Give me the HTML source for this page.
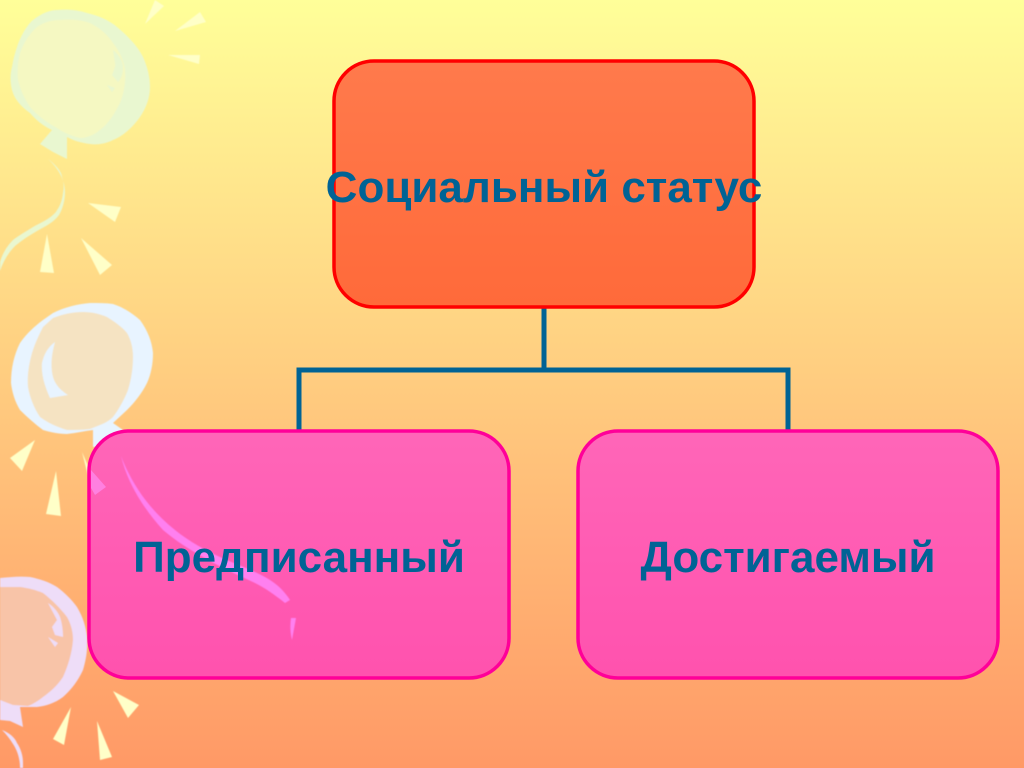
<!DOCTYPE html>
<html>
<head>
<meta charset="utf-8">
<style>
html,body{margin:0;padding:0;width:1024px;height:768px;overflow:hidden}
svg{display:block}
text{font-family:"Liberation Sans",sans-serif;font-weight:bold;font-size:44px;fill:#006395;text-anchor:middle}
</style>
</head>
<body>
<svg width="1024" height="768" viewBox="0 0 1024 768" xmlns="http://www.w3.org/2000/svg">
<defs>
<linearGradient id="bg" x1="0" y1="0" x2="0" y2="1"><stop offset="0" stop-color="#FFFF99"/><stop offset="1" stop-color="#FF9966"/></linearGradient>
<linearGradient id="o" x1="0" y1="0" x2="0" y2="1"><stop offset="0" stop-color="#FF7A4C"/><stop offset="1" stop-color="#FF6A3A"/></linearGradient>
<linearGradient id="p" x1="0" y1="0" x2="0" y2="1"><stop offset="0" stop-color="#FF66B8"/><stop offset="1" stop-color="#FF52AE"/></linearGradient>
<filter id="s" x="-5%" y="-5%" width="110%" height="110%"><feGaussianBlur stdDeviation="0.5"/></filter>
</defs>
<rect width="1024" height="768" fill="url(#bg)"/>

<g filter="url(#s)">
<!-- balloon 1 -->
<path d="M17,47 C22,32 30,22 33,20 C42,13 50,10 57,10 C68,9 78,10 87,13 C100,16 110,21 117,27 C130,38 138,47 143,57 C148,68 150,78 150,87 C150,98 146,108 140,117 C132,128 123,136 113,140 C105,144 97,145 90,144 C82,143 74,141 67,137 L67,159 L53,152 L40,144 L52,130 C43,126 36,120 30,113 C20,106 14,98 12,90 C10,82 10,74 12,67 C13,60 15,53 17,47Z" fill="#E9F7D0"/>
<path d="M20,53 C24,42 30,33 37,27 C44,22 52,20 60,20 C72,19 82,20 90,23 C100,28 108,35 113,43 C120,52 124,61 125,70 C126,82 124,93 120,103 C114,115 108,124 100,130 C94,135 87,138 80,138 C72,136 64,133 57,128 C46,122 37,115 30,107 C24,98 20,89 18,80 C17,70 18,61 20,53Z" fill="#F5F8C2"/>
<path d="M113,50 C119,55 123,61 123,67 C123,74 121,79 118,82 L112,75 C114,70 116,66 115,63Z M107,85 L115,88 L112,92Z" fill="#E9F7D0"/>
<path d="M48,159 C56,165 62,172 62,177 C64,183 64,188 63,193 C62,202 59,208 55,213 C48,220 40,223 33,227 C25,232 18,236 13,240 C6,247 2,255 0,262 L0,271 C3,262 8,253 15,246 C22,240 30,235 37,231 C46,226 54,222 59,215 C63,208 65,200 65,192 C65,180 58,168 48,159Z" fill="#E9F7D0"/>
<g fill="#FFFFC8">
<path d="M155,0 L164,6 L145,24Z"/><path d="M200,12 L206,22 L175,31Z"/><path d="M168,55 L200,55 L199,64Z"/>
<path d="M88,203 L121,207 L115,222Z"/><path d="M81,238 L112,265 L100,275Z"/><path d="M47,234 L54,273 L40,272Z"/>
</g>

<!-- balloon 2 -->
<path d="M53,313 C65,307 78,304 90,303 C98,303 106,303 113,304 C125,308 133,314 140,320 C148,331 152,342 153,353 C153,364 151,374 147,383 C142,393 135,402 127,410 L113,423 L123,430 L110,445 L93,447 L93,430 C85,431 76,433 67,434 C58,434 50,432 43,430 C35,424 27,417 20,410 C15,402 12,392 11,383 C11,368 14,355 20,343 C27,333 35,326 43,320Z" fill="#E8F4FF"/>
<path d="M53,318 C63,314 73,312 83,312 C92,312 100,314 107,317 C115,322 122,327 127,333 C131,340 133,348 133,357 C133,369 131,380 128,390 C124,400 119,409 113,417 C109,421 105,423 100,425 L90,429 C82,430 75,430 67,430 C57,427 48,423 40,417 C34,408 30,398 28,387 C27,375 29,364 32,353 C35,343 39,335 43,327Z" fill="#F5E3C2"/>
<path d="M55,342 C48,347 44,354 42,363 C41,375 45,387 50,398 L68,395 C60,390 55,384 53,377 C50,365 52,353 55,342Z" fill="#E8F4FF"/>
<g fill="#FFFFC8">
<path d="M35,440 L22,471 L10,458Z"/><path d="M56,471 L61,516 L46,514Z"/><path d="M82,452 L92,475 L89,480Z"/>
</g>

<!-- balloon 3 -->
<path d="M0,578 C10,577 20,576 30,577 C40,579 49,582 57,587 C65,593 72,600 77,607 C83,617 86,627 87,637 C88,649 86,660 83,670 C78,681 71,690 63,697 C55,703 46,706 37,707 L20,707 L23,727 L10,721 L0,720Z" fill="#EEDDF8"/>
<path d="M0,587 L20,587 C28,588 36,590 43,593 C52,600 60,608 67,617 C71,624 73,632 73,640 C72,653 68,666 63,677 C57,686 50,692 43,697 C38,701 33,704 28,706 L13,705 L0,700Z" fill="#F8C4A8"/>
<path d="M48,603 C54,607 58,612 60,617 C62,623 63,630 63,637 L55,635 L52,627 L57,620Z M48,637 L58,643 L55,647Z" fill="#EEDDF8"/>
<path d="M2,730 C10,733 15,738 17,743 C21,749 23,756 23,763 L23,768 L20,768 C20,758 17,750 13,744 C10,739 6,734 2,730Z" fill="#EEDDF8"/>
<g fill="#FFFFC8">
<path d="M113,691 L139,705 L128,718Z"/><path d="M71,707 L64,745 L53,739Z"/><path d="M97,721 L112,757 L100,760Z"/>
</g>
</g>

<!-- connectors -->
<path d="M544,307 V370 M299,431 V370 H788 V431" fill="none" stroke="#006395" stroke-width="5" stroke-linecap="square"/>

<!-- boxes -->
<rect x="334" y="61" width="420" height="246" rx="40" ry="40" fill="url(#o)" stroke="#FF0000" stroke-width="3.5"/>
<rect x="89" y="431" width="420" height="247" rx="40" ry="40" fill="url(#p)" stroke="#FF0099" stroke-width="3.5"/>
<rect x="578" y="431" width="420" height="247" rx="40" ry="40" fill="url(#p)" stroke="#FF0099" stroke-width="3.5"/>
<path d="M91,470 L106,487 L95,495 L91,488Z" fill="#FF80E0"/>

<!-- streak -->
<g filter="url(#s)" fill="#FF80F0">
<path d="M121,456 C132,485 150,510 175,530 C190,542 205,550 220,557 C240,566 258,572 270,580 C278,585 285,592 290,600 L285,603 C275,595 265,588 255,583 C238,575 220,567 205,558 C190,550 176,541 163,530 C145,510 128,485 121,456Z"/>
<path d="M291,618 L296,618 L292,640 C290,632 290,625 291,618Z"/>
</g>

<!-- labels -->
<text x="544" y="202">Социальный статус</text>
<text x="299" y="572">Предписанный</text>
<text x="788" y="572">Достигаемый</text>
</svg>
</body>
</html>
